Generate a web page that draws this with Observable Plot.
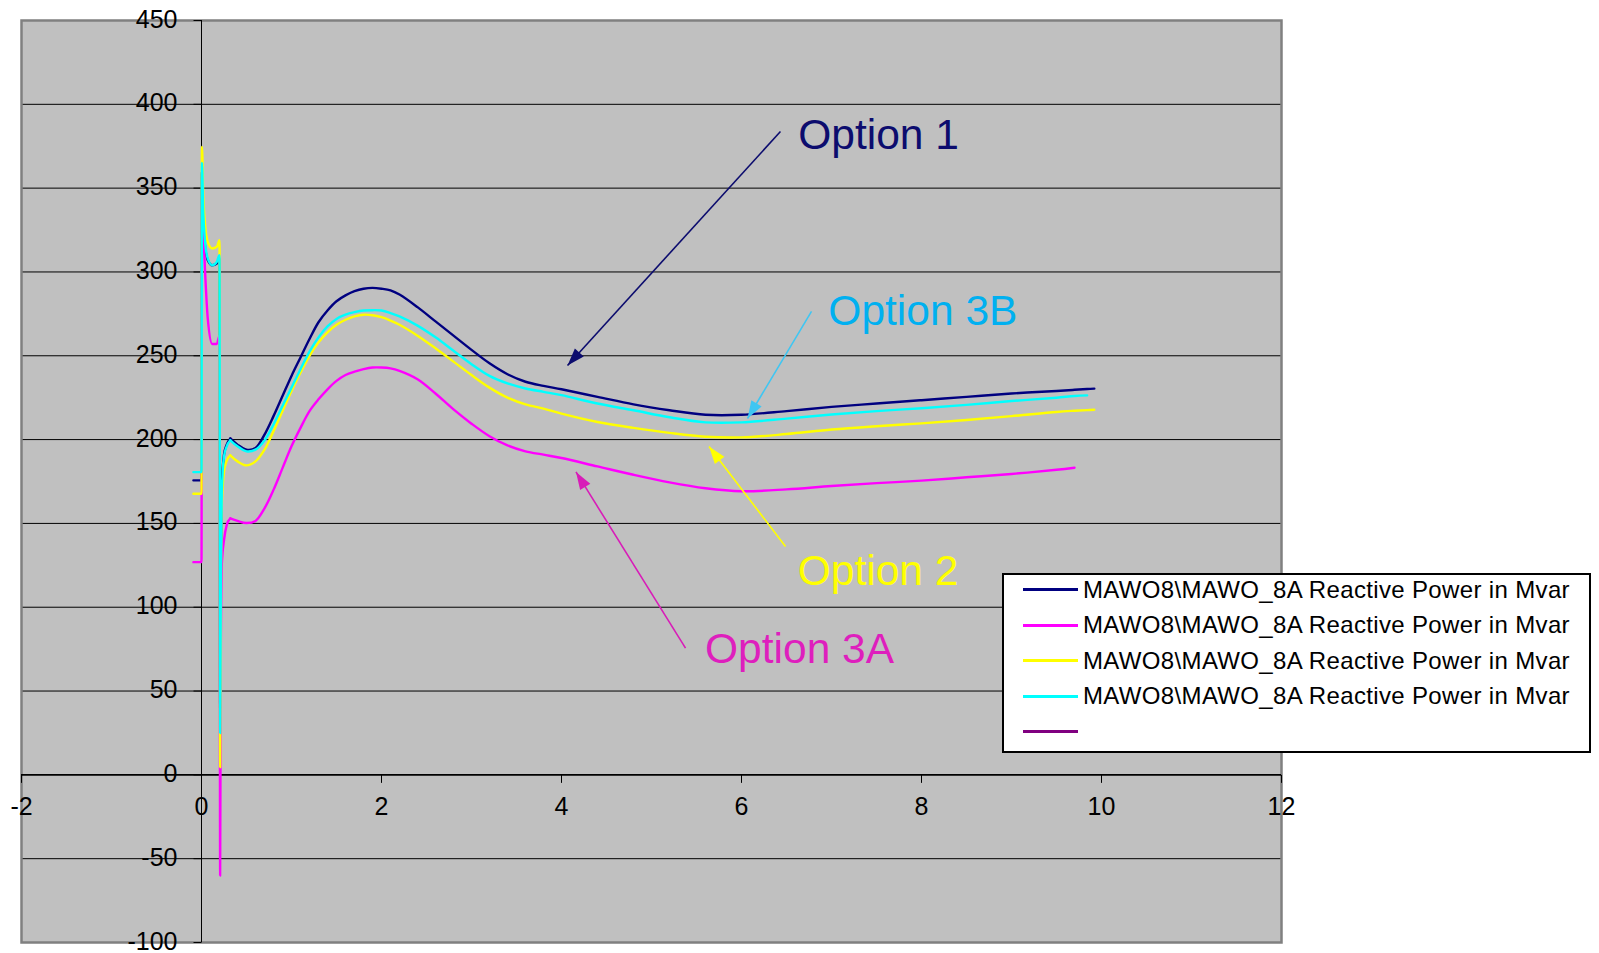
<!DOCTYPE html>
<html>
<head>
<meta charset="utf-8">
<script src="https://cdn.jsdelivr.net/npm/d3@7"></script>
<script src="https://cdn.jsdelivr.net/npm/@observablehq/plot@0.6"></script>
<style>
  body { margin: 0; background: #fff; font-family: "Liberation Sans", Arial, sans-serif; }
  #chart { position: relative; width: 1599px; height: 953px; }
  #chart svg { position: absolute; left: 0; top: 0; }
  .legend { position: absolute; left: 1002px; top: 573px; width: 589px; height: 180px;
            box-sizing: border-box; background: #fff; border: 2px solid #000; }
  .legend .row { position: absolute; left: 19px; height: 26px; display: flex; align-items: center; }
  .legend .swatch { width: 55px; height: 3px; margin-right: 5px; }
  .legend .label { font-size: 24px; letter-spacing: 0.35px; color: #000; white-space: nowrap; line-height: 26px; }
</style>
</head>
<body>
<div id="chart"></div>
<script>
// Reactive power (Mvar) at MAWO8\MAWO_8A versus time (s) for four options.
const time = [-0.09, 0, 0.005, 0.02, 0.04, 0.07, 0.12, 0.17, 0.2, 0.207, 0.215, 0.225, 0.25, 0.28, 0.32,
  0.4, 0.5, 0.6, 0.7, 0.8, 0.9, 1.0, 1.1, 1.2, 1.3, 1.4, 1.5, 1.6, 1.7, 1.8, 1.9, 2.0, 2.1, 2.2,
  2.4, 2.6, 2.8, 3.0, 3.2, 3.4, 3.6, 3.8, 4.0, 4.4, 4.8, 5.2, 5.6, 6.0, 6.5, 7.0, 7.5, 8.0, 8.5,
  9.0, 9.5, 9.7, 9.84, 9.92];

const option1 = [175.7, 175.7, 360, 330, 315, 307, 304, 305, 308, 40, 125, 170, 191, 197, 200.7,
  197, 194, 195, 203, 214, 226, 238, 249, 260, 270, 277, 282.5, 286, 288.5, 290, 290.5, 290, 289, 286.5,
  279, 270.5, 262, 253.5, 245.5, 239, 234.5, 232, 230, 225.5, 221, 217.5, 214.8, 214.8, 217, 219.5, 221.5, 223.5, 225.5,
  227.5, 229, 229.7, 230.2, 230.4];

const option3A = [126.9, 126.9, 345, 325, 300, 272, 257, 257, 262, -60, 80, 125, 140, 149, 153,
  151.5, 150.2, 151.5, 159, 170, 183, 196, 207, 217, 224, 230, 235, 238.5, 240.5, 242, 243, 243, 242.5, 241,
  236, 227.5, 218, 209.5, 202, 196.5, 193, 191, 189, 184, 179, 174.5, 171, 169.2, 170.3, 172.3, 174, 175.5, 177.5,
  179.5, 182, 183.2, null, null];

const option2 = [167.7, 167.7, 374.5, 345, 328, 318, 314, 315, 319, 4.6, 110, 160, 181, 187.5, 190.6,
  187, 184.6, 187, 194, 205, 217, 229, 240, 250, 258, 264, 268.5, 271.5, 273.5, 274.5, 274.2, 273, 271, 268.5,
  262, 254.5, 246.5, 238.5, 231, 225, 221, 218.5, 215.5, 210.5, 207, 204, 201.7, 201.3, 203.3, 206, 208, 209.7, 211.7,
  214, 216.5, 217.2, 217.6, 217.8];

const option3B = [180.6, 180.6, 365, 335, 318, 308, 304, 306, 310, 25, 120, 168, 190, 196, 199.6,
  196, 193, 194, 199.5, 209, 220, 231, 242, 252.5, 261, 267.5, 272, 274.5, 276, 277, 277.2, 277, 275.5, 273.5,
  268, 261, 253, 245, 238, 233.5, 230.5, 228.5, 226.5, 221.5, 217.5, 213.3, 210.3, 210.3, 212.5, 215, 217, 218.7, 220.7,
  223, 225, 226, 226.4, null];

// Series in drawing (and legend) order
const seriesValues = [option1, option3A, option2, option3B];
const seriesColors = ["#000080", "#ff00ff", "#ffff00", "#00ffff"];
const legendLabels = [
  "MAWO8\\MAWO_8A Reactive Power in Mvar",
  "MAWO8\\MAWO_8A Reactive Power in Mvar",
  "MAWO8\\MAWO_8A Reactive Power in Mvar",
  "MAWO8\\MAWO_8A Reactive Power in Mvar",
  ""
];
const legendColors = ["#000080", "#ff00ff", "#ffff00", "#00ffff", "#800080"];

// Axis ticks
const xTicks = [-2, 0, 2, 4, 6, 8, 10, 12];
const yTicks = [-100, -50, 0, 50, 100, 150, 200, 250, 300, 350, 400, 450];
const yGrid = [-50, 50, 100, 150, 200, 250, 300, 350, 400];

// Call-out labels and their arrows (data units)
const noteLabels = ["Option 1", "Option 3B", "Option 2", "Option 3A"];
const noteColors = ["#0c0c6e", "#00b0f0", "#ffff00", "#de1fbd"];
const noteX = [6.63, 6.965, 6.625, 5.595];
const noteY = [381.6, 276.5, 121.4, 75.1];
const arrowFromX = [6.433, 6.778, 6.489, 5.378];
const arrowFromY = [383.8, 276.5, 136.2, 75.6];
const arrowToX = [4.067, 6.067, 5.639, 4.161];
const arrowToY = [244.2, 212.6, 195.9, 180.7];
const arrowColors = ["#0c0c6e", "#3fc6f2", "#ffff00", "#d81cb8"];

const W = 1599, H = 953;
const margin = {left: 21, right: 318, top: 20, bottom: 11};
const xDomain = [-2, 12], yDomain = [-100, 450];
const sx = Plot.scale({x: {domain: xDomain, range: [margin.left, W - margin.right]}});
const sy = Plot.scale({y: {domain: yDomain, range: [H - margin.bottom, margin.top]}});

// Custom symbols: filled arrowhead with its tip at the origin, and axis tick strokes
const arrowHead = {
  draw(ctx, size) {
    const r = Math.sqrt(size / Math.PI);
    ctx.moveTo(0, 0);
    ctx.lineTo(-0.6 * r, 1.75 * r);
    ctx.lineTo(0.6 * r, 1.75 * r);
    ctx.closePath();
  }
};
const tickLeft = {draw(ctx) { ctx.moveTo(-8, 0); ctx.lineTo(0, 0); }};
const tickDown = {draw(ctx) { ctx.moveTo(0, 0); ctx.lineTo(0, 8); }};

const font = 25;
const marks = [
  Plot.frame({fill: "#c0c0c0"}),
  Plot.ruleY(yGrid, {stroke: "#000", strokeWidth: 1}),
  Plot.frame({stroke: "#808080", strokeWidth: 2.5}),
  Plot.ruleX([0], {stroke: "#000", strokeWidth: 1}),
  Plot.ruleY([0], {stroke: "#000", strokeWidth: 1.8}),
  Plot.dot(yTicks, {x: 0, y: d => d, r: 1, symbol: tickLeft, stroke: "#000", fill: "none", strokeWidth: 1}),
  Plot.dot(xTicks, {x: d => d, y: 0, r: 1, symbol: tickDown, stroke: "#000", fill: "none", strokeWidth: 1}),
  Plot.text(yTicks, {x: 0, y: d => d, text: d => String(d), textAnchor: "end", dx: -24, dy: -1,
    fontSize: font, fill: "#000"}),
  Plot.text(xTicks, {x: d => d, y: 0, text: d => String(d), dy: 32, fontSize: font, fill: "#000"})
];

// Each trace: the switching transient (up to 0.32 s) keeps its sharp steps,
// the slower swing afterwards is drawn as a smooth curve.
const split = time.indexOf(0.32);
seriesValues.forEach((vals, k) => {
  const data = time.map((t, i) => ({t, v: vals[i], i})).filter(d => d.v != null);
  marks.push(
    Plot.line(data.filter(d => d.i <= split), {x: "t", y: "v", stroke: seriesColors[k], strokeWidth: 2.4, curve: "monotone-x"}),
    Plot.line(data.filter(d => d.i >= split), {x: "t", y: "v", stroke: seriesColors[k], strokeWidth: 2.4, curve: "catmull-rom"})
  );
});

noteLabels.forEach((label, k) => {
  const dxp = sx.apply(arrowToX[k]) - sx.apply(arrowFromX[k]);
  const dyp = sy.apply(arrowToY[k]) - sy.apply(arrowFromY[k]);
  const angle = Math.atan2(dxp, -dyp) * 180 / Math.PI;
  marks.push(
    Plot.link([k], {x1: arrowFromX[k], y1: arrowFromY[k], x2: arrowToX[k], y2: arrowToY[k],
      stroke: arrowColors[k], strokeWidth: 1.6}),
    Plot.dot([k], {x: arrowToX[k], y: arrowToY[k], r: 10, symbol: arrowHead, rotate: angle,
      fill: arrowColors[k], stroke: "none"}),
    Plot.text([label], {x: noteX[k], y: noteY[k], text: d => d, textAnchor: "start",
      fontSize: 42.5, fill: noteColors[k]})
  );
});

const svg = Plot.plot({
  width: W, height: H,
  marginLeft: margin.left, marginRight: margin.right, marginTop: margin.top, marginBottom: margin.bottom,
  x: {domain: xDomain, axis: null},
  y: {domain: yDomain, axis: null},
  style: {fontFamily: "'Liberation Sans', Arial, sans-serif", background: "transparent", overflow: "visible"},
  marks
});

const chart = document.getElementById("chart");
chart.appendChild(svg);

// Legend box overlapping the right edge of the plot area
const legend = document.createElement("div");
legend.className = "legend";
legendLabels.forEach((label, i) => {
  const row = document.createElement("div");
  row.className = "row";
  row.style.top = (14.5 + i * 35.6 - 13) + "px";
  const sw = document.createElement("span");
  sw.className = "swatch";
  sw.style.background = legendColors[i];
  const tx = document.createElement("span");
  tx.className = "label";
  tx.textContent = label;
  row.appendChild(sw);
  row.appendChild(tx);
  legend.appendChild(row);
});
chart.appendChild(legend);
</script>
</body>
</html>
